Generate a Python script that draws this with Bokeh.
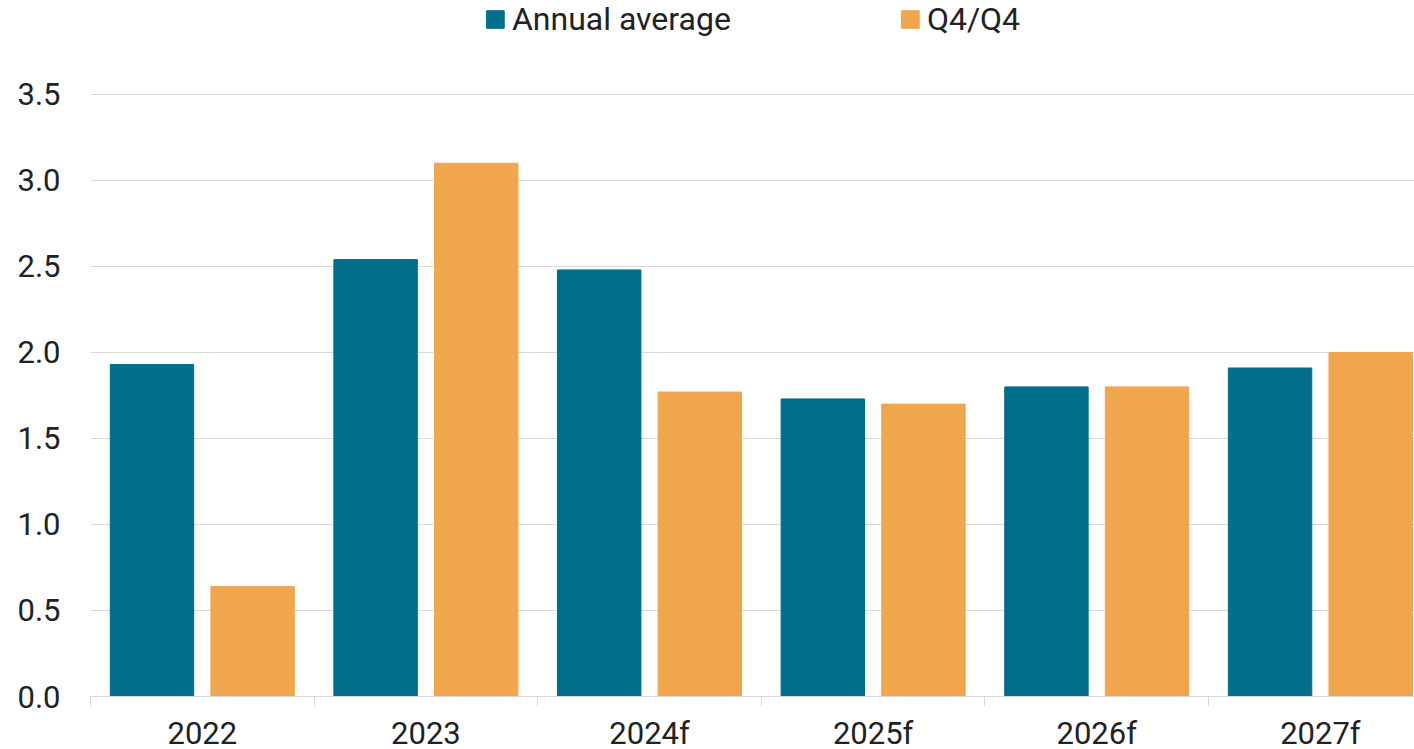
from bokeh.plotting import figure
from bokeh.models import ColumnDataSource, Range1d, FixedTicker, Legend, LegendItem
from bokeh.embed import file_html
from bokeh.resources import INLINE

years = ["2022", "2023", "2024f", "2025f", "2026f", "2027f"]
annual_average = [1.93, 2.54, 2.48, 1.73, 1.80, 1.91]
q4_q4 = [0.64, 3.10, 1.77, 1.70, 1.80, 2.00]
y_ticks = [0.0, 0.5, 1.0, 1.5, 2.0, 2.5, 3.0, 3.5]

TEAL = "#016E8A"
ORANGE = "#F0A64C"
TEXT = "#222222"
GRID = "#d9d9d9"
FONT = "Roboto"
FS = "31px"

idx = list(range(len(years)))
src = ColumnDataSource(dict(
    x_a=[i + 0.5 - 0.225 for i in idx],
    x_q=[i + 0.5 + 0.225 for i in idx],
    annual=annual_average,
    q4=q4_q4,
))

p = figure(frame_width=1324, frame_height=696, output_backend="svg", toolbar_location=None,
           x_range=Range1d(0, 5.921), y_range=Range1d(0, 4.0465),
           min_border_left=90, min_border_right=0, min_border_top=0, min_border_bottom=0)
p.outline_line_color = None
p.background_fill_color = "white"
p.border_fill_color = "white"

r1 = p.vbar(x="x_a", top="annual", width=0.373, source=src, fill_color=TEAL, line_color=TEAL)
r2 = p.vbar(x="x_q", top="q4", width=0.373, source=src, fill_color=ORANGE, line_color=ORANGE)

# x axis
p.xaxis.ticker = FixedTicker(ticks=[i + 0.5 for i in idx], minor_ticks=list(range(len(years))))
p.xaxis.major_label_overrides = {i + 0.5: y for i, y in zip(idx, years)}
p.xaxis.major_tick_line_color = None
p.xaxis.major_tick_out = 0
p.xaxis.major_tick_in = 0
p.xaxis.minor_tick_line_color = GRID
p.xaxis.minor_tick_out = 10
p.xaxis.minor_tick_in = 0
p.xaxis.axis_line_color = GRID
p.xaxis.major_label_text_font = FONT
p.xaxis.major_label_text_font_size = FS
p.xaxis.major_label_text_color = TEXT
p.xaxis.major_label_standoff = 8
p.xgrid.grid_line_color = None

# y axis
p.yaxis.ticker = FixedTicker(ticks=y_ticks)
p.yaxis.major_label_overrides = {t: f"{t:.1f}" for t in y_ticks}
p.yaxis.axis_line_color = None
p.yaxis.major_tick_line_color = None
p.yaxis.major_tick_out = 0
p.yaxis.minor_tick_line_color = None
p.yaxis.major_label_text_font = FONT
p.yaxis.major_label_text_font_size = FS
p.yaxis.major_label_text_color = TEXT
p.yaxis.major_label_standoff = 30
p.ygrid.grid_line_color = GRID
p.ygrid.grid_line_width = 1

legend = Legend(items=[LegendItem(label="Annual average", renderers=[r1]),
                       LegendItem(label="Q4/Q4", renderers=[r2])],
                location="top_center", orientation="horizontal")
legend.background_fill_alpha = 0
legend.border_line_color = None
legend.margin = 0
legend.padding = 5
legend.spacing = 168
legend.label_standoff = 6
legend.glyph_width = 22
legend.glyph_height = 22
legend.label_text_font = FONT
legend.label_text_font_size = "32px"
legend.label_text_color = TEXT
p.add_layout(legend, "center")

open("out.html", "w").write(file_html(p, INLINE))
